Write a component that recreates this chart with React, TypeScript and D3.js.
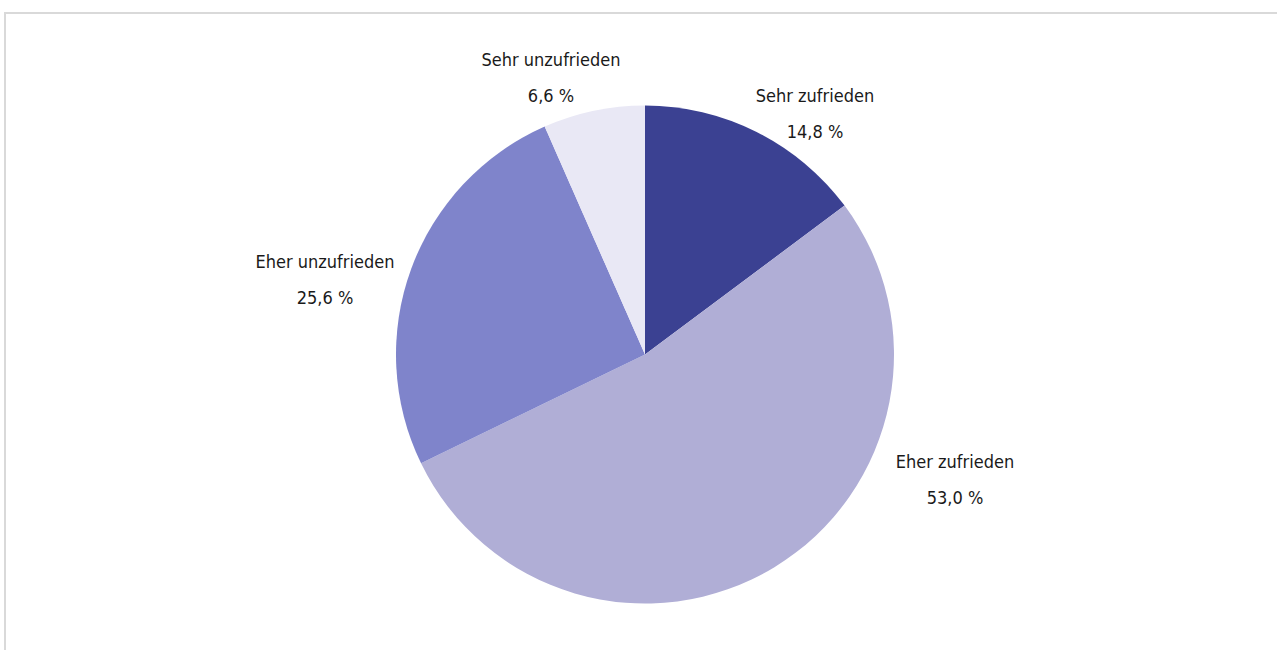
import React from "react";
import * as d3 from "d3";

const categories = ["Sehr zufrieden", "Eher zufrieden", "Eher unzufrieden", "Sehr unzufrieden"];
const values = [14.8, 53.0, 25.6, 6.6];
const colors = ["#3b4192", "#b0aed6", "#7f84cb", "#e9e8f5"];
// label anchor offsets (relative to pie centre), layout only
const labelOffsets: [number, number][] = [
  [170, -241],
  [310, 125],
  [-320, -75],
  [-94, -277],
];

const W = 1277;
const H = 650;
const cx = 645;
const cy = 354.5;
const R = 249;

export default function App() {
  const pie = d3.pie<number>().sort(null).value((d) => d)(values);
  const arc = d3.arc<d3.PieArcDatum<number>>().innerRadius(0).outerRadius(R);
  const fmt = (v: number) => v.toFixed(1).replace(".", ",") + " %";
  return (
    <svg
      width={W}
      height={H}
      style={{ position: "absolute", left: 0, top: 0 }}
      fontFamily="'Liberation Sans Narrow', 'DejaVu Sans Condensed', sans-serif"
    >
      <rect x={5} y={13} width={W + 10} height={H + 10} fill="#fff" stroke="#d9d9d9" strokeWidth={2} />
      <g transform={`translate(${cx},${cy})`}>
        {pie.map((p, i) => (
          <path key={i} d={arc(p) || ""} fill={colors[i]} />
        ))}
        {pie.map((p, i) => (
          <g key={"l" + i} transform={`translate(${labelOffsets[i][0]},${labelOffsets[i][1]})`} fontSize={18} fill="#1a1a1a" textAnchor="middle">
            <text y={-18} dy="0.35em">{categories[i]}</text>
            <text y={18} dy="0.35em">{fmt(values[i])}</text>
          </g>
        ))}
      </g>
    </svg>
  );
}
